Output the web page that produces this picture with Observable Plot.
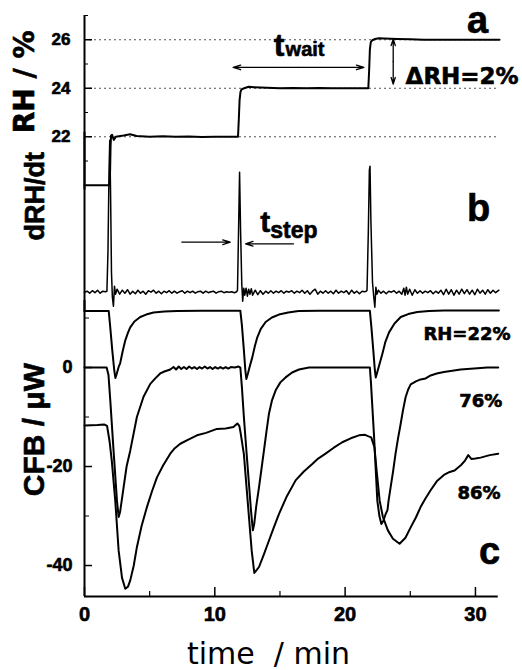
<!DOCTYPE html>
<html><head><meta charset="utf-8">
<script src="https://cdn.jsdelivr.net/npm/d3@7"></script>
<script src="https://cdn.jsdelivr.net/npm/@observablehq/plot@0.6"></script>
<style>
 html,body{margin:0;padding:0;background:#fff;}
 #chart{position:relative;width:522px;height:670px;}
 #chart svg{position:absolute;left:0;top:0;}
</style></head><body><div id="chart"></div>
<script>
// ---------------- data ----------------
const xMajorTicks = [0, 10, 20, 30];
const xMinorTicks = [5, 15, 25];
const rhTicks = [22, 24, 26];
const rhMinorTicks = [21, 23, 25, 27];
const cfbTicks = [0, -20, -40];
const cfbMinorTicks = [10, -10, -30];
const rhGridLevels = [22, 24, 26];

// panel a: relative humidity (time min, RH %)
const rhSeries = [[0,20.0],[1.0,20.0],[1.93,20.0],[1.97,20.7],[2.0,21.6],[2.04,22.05],[2.12,22.08],[2.25,21.87],[2.4,22.0],[3.0,22.05],[3.5,22.1],[4.0,22.03],[5,22.0],[6,22.02],[7,22.0],[8,22.01],[9,21.99],[10,22.0],[11,22.0],[11.78,22.0],[11.84,22.7],[11.9,23.5],[11.97,23.85],[12.05,23.95],[12.25,24.0],[12.6,24.06],[13,24.04],[14,24.02],[15,24.0],[16,24.01],[17,24.0],[18,24.01],[19,24.0],[20,24.0],[21,24.0],[21.78,24.0],[21.84,24.7],[21.9,25.6],[21.97,25.9],[22.08,25.98],[22.3,26.03],[22.6,26.06],[23,26.05],[24,26.03],[25,26.02],[26,26.0],[28,26.0],[30,26.0],[31.85,26.0]];

// panel b: dRH/dt (arbitrary units)
const dRHSeries = [[0,0],[0.2,0.1],[0.4,-0.1],[0.6,0.15],[0.8,-0.05],[1.0,0.2],[1.2,-0.1],[1.4,0.1],[1.6,0.05],[1.72,0.1],
[1.8,4],[1.88,12],[1.94,15.2],[2.0,10],[2.07,2],[2.14,-0.5],[2.22,-1.4],[2.3,0.6],[2.38,-0.2],
[2.5,0.3],[2.7,-0.2],[2.9,0.2],[3.1,-0.1],[3.3,0.25],[3.5,-0.2],[3.7,0.1],[3.9,-0.15],[4.1,0.2],[4.3,-0.1],[4.5,0.1],[4.7,-0.2],[4.9,0.15],[5.1,0],[5.3,0.2],[5.5,-0.1],[5.7,0.1],[5.9,-0.15],[6.1,0.1],[6.3,-0.05],[6.5,0.15],[6.7,-0.1],[6.9,0.1],[7.1,-0.1],[7.3,0.05],[7.5,0.15],[7.7,-0.1],[7.9,0.1],[8.1,-0.05],[8.3,0.1],[8.5,-0.1],[8.7,0.05],[8.9,0.1],[9.1,-0.1],[9.3,0.1],[9.5,-0.05],[9.7,0.05],[9.9,0.1],[10.1,-0.1],[10.3,0.05],[10.5,0.1],[10.7,-0.05],[10.9,0.05],[11.1,0],[11.3,0.05],[11.5,-0.05],[11.68,0.05],
[11.74,0.2],[11.82,6],[11.9,12.0],[11.98,6],[12.07,0.8],[12.14,-0.9],[12.22,0.4],[12.3,-0.3],
[12.4,0.4],[12.5,-0.4],[12.6,0.3],[12.7,-0.2],[12.8,0.35],[12.9,-0.3],[13.1,0.2],[13.3,-0.25],[13.5,0.15],[13.7,-0.2],[13.9,0.1],[14.1,-0.1],[14.3,0.15],[14.5,-0.1],[14.7,0.1],[14.9,-0.05],[15.1,0.15],[15.3,-0.1],[15.5,0.1],[15.7,0],[15.9,0.15],[16.1,-0.1],[16.3,0.1],[16.5,-0.05],[16.7,0.2],[16.9,-0.1],[17.1,0.15],[17.3,-0.2],[17.5,0.1],[17.7,0.3],[17.9,-0.2],[18.1,0.1],[18.3,-0.1],[18.5,0.15],[18.7,-0.1],[18.9,0.1],[19.1,-0.15],[19.3,0.2],[19.5,-0.1],[19.7,0.1],[19.9,-0.05],[20.1,0.15],[20.3,-0.2],[20.5,0.2],[20.7,-0.1],[20.9,0.1],[21.1,-0.15],[21.3,0.1],[21.5,0.05],[21.62,0.1],
[21.68,0.2],[21.78,6],[21.86,12.2],[21.91,12.6],[21.98,7],[22.1,1],[22.2,-0.5],[22.28,-1.5],[22.36,0.5],[22.44,-0.2],
[22.55,0.2],[22.75,-0.1],[22.95,0.1],[23.15,-0.15],[23.35,0.1],[23.55,0],[23.75,0.15],[23.95,-0.1],[24.15,0.1],[24.35,-0.2],[24.5,0.4],[24.6,-0.3],[24.7,0.5],[24.8,-0.2],[24.95,0.3],[25.15,-0.3],[25.35,0.25],[25.55,-0.1],[25.75,0.15],[25.95,-0.1],[26.15,0.1],[26.35,-0.05],[26.55,0.15],[26.75,-0.15],[26.95,0.1],[27.15,-0.1],[27.35,0.2],[27.55,-0.25],[27.75,0.3],[27.95,-0.2],[28.15,0.25],[28.35,-0.3],[28.55,0.2],[28.75,-0.2],[28.95,0.3],[29.15,-0.15],[29.35,0.25],[29.55,-0.2],[29.75,0.2],[29.95,-0.25],[30.15,0.3],[30.35,-0.1],[30.55,0.2],[30.75,-0.2],[30.95,0.25],[31.15,-0.1],[31.35,0.2],[31.55,-0.05],[31.8,0.2]];

// panel c: calorimetric feedback (µW)
const cfb22 = [[0,11.4],[1.0,11.4],[1.86,11.4],[1.98,8],[2.13,3.5],[2.28,-0.5],[2.37,-2.1],[2.48,-1.2],[2.63,0.2],[2.74,0.9],[2.93,3.3],[3.13,5.5],[3.33,7.0],[3.51,8.1],[3.83,9.3],[4.28,10.2],[4.73,10.7],[5.3,11.1],[6.13,11.3],[7.09,11.4],[9,11.45],[11,11.45],[11.96,11.45],
[12.08,8.5],[12.23,3.5],[12.35,-0.8],[12.42,-2.3],[12.53,-1.3],[12.68,0.2],[12.88,2.1],[13.08,4.4],[13.26,6.1],[13.53,7.8],[13.9,9.2],[14.38,10.1],[14.92,10.7],[15.63,11.1],[16.43,11.4],[18,11.45],[20,11.45],[21.9,11.45],
[22.02,8],[22.16,3.5],[22.28,-0.5],[22.35,-2.0],[22.46,-1],[22.62,0.5],[22.86,2.8],[23.09,5.2],[23.37,7.1],[23.79,8.9],[24.27,10.2],[24.84,10.8],[25.54,11.2],[26.44,11.4],[27.6,11.5],[29,11.5],[31.8,11.5]];

const cfb76 = [[0,0],[1.0,0],[1.7,0],[1.84,-1.5],[1.98,-6.7],[2.23,-16.8],[2.49,-26.9],[2.62,-30.2],[2.73,-29.2],[3.0,-24.2],[3.23,-20],[3.51,-16.8],[4.02,-10.0],[4.53,-5.9],[5.05,-3.3],[5.43,-2.2],[5.81,-1.2],[6.13,-0.8],[6.58,-0.4],[6.83,0.1],[7.03,-0.4],[7.23,0.2],[7.43,-0.3],[7.63,0.1],[7.83,-0.3],[8.03,0.2],[8.23,-0.2],[8.43,0.1],[8.63,-0.3],[8.83,0.1],[9.03,-0.2],[9.23,0.2],[9.43,-0.2],[9.63,0.1],[9.83,-0.3],[10.03,0.1],[10.23,-0.2],[10.43,0.1],[10.63,-0.2],[10.83,0.1],[11.03,-0.2],[11.23,0.1],[11.53,0],[11.83,0.2],[11.96,0],
[12.08,-4],[12.23,-10],[12.43,-17],[12.62,-23.5],[12.78,-29],[12.92,-32.9],[13.03,-31.5],[13.18,-28],[13.39,-24.2],[13.58,-20.5],[13.77,-16.8],[13.96,-13],[14.15,-9.4],[14.38,-6.7],[14.67,-4.6],[15.03,-3],[15.43,-2.0],[15.93,-1],[16.46,-0.4],[17.23,0],[19,0],[20.5,0],[21.9,0],
[21.98,-3],[22.21,-13.4],[22.47,-26.9],[22.63,-30],[22.78,-31.6],[22.93,-31],[23.11,-29.6],[23.25,-28.8],[23.33,-27],[23.49,-24.2],[23.68,-21],[23.87,-17.4],[24.06,-14.3],[24.26,-11.4],[24.45,-8.5],[24.64,-6],[24.83,-4.5],[25.03,-3.4],[25.43,-2.8],[25.79,-2.4],[26.18,-2.2],[26.56,-1.6],[27.03,-1.2],[27.58,-0.9],[28.1,-0.7],[28.86,-0.4],[29.9,-0.2],[30.9,0],[31.75,0]];

const cfb86 = [[0,-11.7],[1.0,-11.6],[1.5,-11.5],[1.73,-11.8],[1.93,-15],[2.1,-19],[2.36,-26.9],[2.62,-37],[2.88,-42.5],[3.13,-44.7],[3.33,-44.3],[3.51,-43],[3.78,-40],[4.02,-36.3],[4.38,-32],[4.79,-28.2],[5.18,-25],[5.56,-22.2],[6.03,-19.8],[6.58,-17.4],[6.93,-16.3],[7.35,-15.4],[7.93,-14.6],[8.63,-13.7],[9.33,-13.2],[10.16,-12.4],[10.83,-12.3],[11.43,-12.0],[11.73,-11.3],[11.88,-11.8],[11.98,-13.2],[12.23,-17.5],[12.43,-24],[12.62,-30.2],[12.83,-37],[13.03,-41.5],[13.13,-41.2],[13.39,-40.3],[13.73,-38],[14.15,-35],[14.53,-32.3],[14.92,-29.6],[15.53,-26],[16.2,-22.8],[16.83,-21],[17.48,-19.5],[17.93,-18.4],[18.5,-17.4],[19.13,-16.2],[19.78,-15.1],[20.43,-14.3],[21.06,-13.7],[21.53,-13.6],[21.8,-13.9],[22.0,-14.1],[22.25,-16.1],[22.39,-20.1],[22.65,-26.9],[22.9,-30.2],[23.28,-32.9],[23.67,-34.6],[24.18,-35.6],[24.63,-34.4],[25.03,-32.3],[25.43,-30.3],[25.79,-28.2],[26.13,-26.6],[26.56,-24.8],[27.03,-23],[27.58,-21.7],[28.03,-21.1],[28.4,-20.8],[28.9,-19.7],[29.2,-18.8],[29.45,-17.7],[29.7,-18.5],[30.0,-18.4],[30.4,-18.2],[31.1,-17.7],[31.75,-17.4]];

// annotation anchors (data coordinates of each panel)
const panelALetter = [{label: "a", x: 30.16, y: 26.26}];
const twaitMain = [{label: "t", x: 14.53, y: 25.35}];
const twaitSub = [{label: "wait", x: 15.43, y: 25.35}];
const twaitArrow = [{x1: 16.43, x2: 11.41, y: 24.86}, {x1: 16.43, x2: 21.44, y: 24.86}];
const dRHArrow = [{x: 23.69, y1: 25.1, y2: 26.03}, {x: 23.69, y1: 25.1, y2: 24.17}];
const dRHLabel = [{label: "\u0394RH=2%", x: 24.64, y: 24.18}];

const panelBLetter = [{label: "b", x: 30.24, y: 7.17}];
const tstepMain = [{label: "t", x: 13.48, y: 6.0}];
const tstepSub = [{label: "step", x: 14.25, y: 5.44}];
const tstepArrows = [{x1: 7.47, x2: 11.18, y: 5.0}, {x1: 16.04, x2: 12.36, y: 4.84}];

const panelCLetter = [{label: "c", x: 31.08, y: -39.6}];
const curveLabels = [{label: "RH=22%", x: 32.69, y: 5.52}, {label: "76%", x: 32.06, y: -7.94}, {label: "86%", x: 31.93, y: -26.5}];

const xAxisTitle = ["time  / min"];
const yTitleA = ["RH / %"], yTitleB = ["dRH/dt"], yTitleC = ["CFB / \u03bcW"];

// ---------------- layout ----------------
const W = 522, H = 670, ML = 84, MR = 21;
const xDomain = [0, 32];
const xAxisEnd = 31.75;
const AR = "Liberation Sans, Arial, Helvetica, sans-serif";
const DV = "DejaVu Sans, sans-serif";
const base = {
  width: W, height: H, marginLeft: ML, marginRight: MR,
  x: {domain: xDomain, axis: null},
  style: {background: "transparent", fontFamily: AR, color: "black", overflow: "visible"}
};
const lineOpts = {x: d => d[0], y: d => d[1], stroke: "black", strokeLinejoin: "round", strokeLinecap: "round"};
const noLabel = () => "";
// heavy (scanned-look) bold text
const heavy = {fontWeight: "bold", fill: "black", stroke: "black", strokeWidth: 0.6};

// panel a
const yA = [19.8, 27];
const plotA = Plot.plot({
  ...base, marginTop: 15, marginBottom: H - 189.6,
  y: {domain: yA, axis: null},
  marks: [
    Plot.ruleY(rhGridLevels, {x1: 0, x2: xAxisEnd, stroke: "#555", strokeWidth: 1, strokeDasharray: "2,3"}),
    Plot.ruleX([0], {stroke: "black", strokeWidth: 2}),
    Plot.axisY({ticks: rhTicks, tickSize: -8, tickFormat: noLabel, label: null, strokeWidth: 1.5}),
    Plot.axisY({ticks: rhMinorTicks, tickSize: -4, tickFormat: noLabel, label: null}),
    Plot.text(rhTicks, {y: d => d, text: d => String(d), frameAnchor: "left", dx: -14, textAnchor: "end", lineAnchor: "middle", fontSize: 17, ...heavy}),
    Plot.line(rhSeries, {...lineOpts, strokeWidth: 2}),
    Plot.text(panelALetter, {x: "x", y: "y", text: "label", fontSize: 38, ...heavy, lineAnchor: "bottom", textAnchor: "middle"}),
    Plot.text(twaitMain, {x: "x", y: "y", text: "label", fontSize: 32, ...heavy, lineAnchor: "bottom", textAnchor: "start"}),
    Plot.text(twaitSub, {x: "x", y: "y", text: "label", fontSize: 20, ...heavy, lineAnchor: "bottom", textAnchor: "start"}),
    Plot.arrow(twaitArrow, {x1: "x1", x2: "x2", y1: "y", y2: "y", stroke: "black", strokeWidth: 1.3, headLength: 9, headAngle: 35}),
    Plot.arrow(dRHArrow, {x1: "x", x2: "x", y1: "y1", y2: "y2", stroke: "black", strokeWidth: 1.3, headLength: 8, headAngle: 35}),
    Plot.text(dRHLabel, {x: "x", y: "y", text: "label", fontFamily: DV, fontSize: 23, ...heavy, lineAnchor: "bottom", textAnchor: "start"}),
    Plot.text(yTitleA, {text: d => d, frameAnchor: "left", rotate: -90, dx: -51, dy: -21, fontFamily: DV, fontSize: 28, ...heavy, lineAnchor: "bottom", textAnchor: "middle"})
  ]
});

// panel b
const yB = [-2, 16];
const plotB = Plot.plot({
  ...base, marginTop: 131.7, marginBottom: H - 311.7,
  y: {domain: yB, axis: null},
  marks: [
    Plot.ruleX([0], {stroke: "black", strokeWidth: 2}),
    Plot.line(dRHSeries, {...lineOpts, strokeWidth: 1.5}),
    Plot.text(panelBLetter, {x: "x", y: "y", text: "label", fontSize: 38, ...heavy, lineAnchor: "bottom", textAnchor: "middle"}),
    Plot.text(tstepMain, {x: "x", y: "y", text: "label", fontSize: 30, ...heavy, lineAnchor: "bottom", textAnchor: "start"}),
    Plot.text(tstepSub, {x: "x", y: "y", text: "label", fontSize: 23, ...heavy, lineAnchor: "bottom", textAnchor: "start"}),
    Plot.arrow(tstepArrows, {x1: "x1", x2: "x2", y1: "y", y2: "y", stroke: "black", strokeWidth: 1.3, headLength: 9, headAngle: 35}),
    Plot.text(yTitleB, {text: d => d, frameAnchor: "left", rotate: -90, dx: -41, dy: -26, fontSize: 27, ...heavy, lineAnchor: "bottom", textAnchor: "middle"})
  ]
});

// panel c
const yC = [-46.26, 13.54];
const plotC = Plot.plot({
  ...base, marginTop: 300, marginBottom: 74,
  y: {domain: yC, axis: null},
  marks: [
    Plot.ruleX([0], {stroke: "black", strokeWidth: 2}),
    Plot.ruleY([yC[0]], {x1: 0, x2: xAxisEnd, stroke: "black", strokeWidth: 1.8}),
    Plot.axisY({ticks: cfbTicks, tickSize: -8, tickFormat: noLabel, label: null, strokeWidth: 1.5}),
    Plot.axisY({ticks: cfbMinorTicks, tickSize: -5, tickFormat: noLabel, label: null}),
    Plot.text(cfbTicks, {y: d => d, text: d => String(d), frameAnchor: "left", dx: -12, textAnchor: "end", lineAnchor: "middle", fontSize: 18, ...heavy}),
    Plot.axisX({ticks: xMajorTicks, tickSize: -9, tickFormat: noLabel, label: null, strokeWidth: 1.5}),
    Plot.axisX({ticks: xMinorTicks, tickSize: -5, tickFormat: noLabel, label: null, strokeWidth: 1.2}),
    Plot.text(xMajorTicks, {x: d => d, text: d => String(d), frameAnchor: "bottom", dy: 10, textAnchor: "middle", lineAnchor: "top", fontSize: 20, ...heavy}),
    Plot.line(cfb22, {...lineOpts, strokeWidth: 2}),
    Plot.line(cfb76, {...lineOpts, strokeWidth: 2}),
    Plot.line(cfb86, {...lineOpts, strokeWidth: 2}),
    Plot.text(curveLabels, {x: "x", y: "y", text: "label", fontFamily: DV, fontSize: 18, ...heavy, lineAnchor: "bottom", textAnchor: "end"}),
    Plot.text(panelCLetter, {x: "x", y: "y", text: "label", fontSize: 38, ...heavy, lineAnchor: "bottom", textAnchor: "middle"}),
    Plot.text(yTitleC, {text: d => d, frameAnchor: "left", rotate: -90, dx: -41, dy: -19, fontSize: 30, ...heavy, lineAnchor: "bottom", textAnchor: "middle"}),
    Plot.text(xAxisTitle, {text: d => d, frameAnchor: "bottom", dx: -24.5, dy: 67, fontFamily: DV, fontSize: 30, fill: "black", lineAnchor: "bottom", textAnchor: "middle"})
  ]
});

const root = document.getElementById("chart");
root.append(plotA, plotB, plotC);
</script></body></html>
